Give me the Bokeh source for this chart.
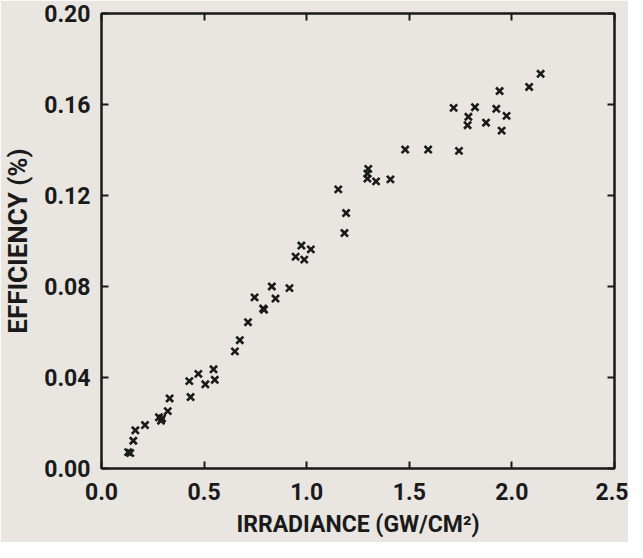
from bokeh.plotting import figure
from bokeh.models import FixedTicker, Range1d, LinearAxis, CustomLabelingPolicy
from bokeh.embed import file_html
from bokeh.resources import INLINE

irradiance = [0.13, 0.14, 0.155, 0.165, 0.212, 0.28, 0.29, 0.295, 0.323, 0.332,
              0.428, 0.434, 0.472, 0.506, 0.546, 0.552, 0.65, 0.674, 0.714, 0.746,
              0.788, 0.792, 0.83, 0.848, 0.916, 0.946, 0.974, 0.988, 1.02, 1.154,
              1.192, 1.184, 1.30, 1.296, 1.296, 1.338, 1.408, 1.48, 1.592, 1.742,
              1.716, 1.788, 1.784, 1.82, 1.874, 1.924, 1.94, 1.974, 1.95, 2.084, 2.14]
efficiency = [0.0072, 0.0068, 0.0122, 0.0168, 0.0191, 0.0225, 0.021, 0.022, 0.0252, 0.0308,
              0.0384, 0.0314, 0.0416, 0.037, 0.0436, 0.039, 0.0515, 0.0564, 0.0643, 0.0752,
              0.0703, 0.0698, 0.080, 0.0747, 0.0793, 0.0931, 0.098, 0.0918, 0.0963, 0.1227,
              0.1123, 0.1035, 0.1317, 0.1296, 0.1274, 0.1262, 0.1271, 0.1402, 0.1402, 0.1396,
              0.1585, 0.1546, 0.1509, 0.1588, 0.152, 0.1581, 0.1659, 0.155, 0.1485, 0.1677, 0.1735]

x_ticks = [0.0, 0.5, 1.0, 1.5, 2.0, 2.5]
x_tick_labels = ["0.0", "0.5", "1.0", "1.5", "2.0", "2.5"]
y_ticks = [0.00, 0.04, 0.08, 0.12, 0.16, 0.20]
y_tick_labels = ["0.00", "0.04", "0.08", "0.12", "0.16", "0.20"]

BG = "#e9e5e0"
FONT = "Roboto"
INK = "#1a1a1a"

p = figure(frame_width=513, frame_height=455,
           x_range=Range1d(x_ticks[0], x_ticks[-1]), y_range=Range1d(y_ticks[0], y_ticks[-1]),
           output_backend="svg", toolbar_location=None,
           background_fill_color=BG, border_fill_color=BG,
           min_border_left=98, min_border_top=13, min_border_right=14, min_border_bottom=74)
p.grid.visible = False
p.outline_line_color = INK
p.outline_line_width = 2

p.scatter(irradiance, efficiency, marker="x", size=10, line_width=2.6, line_color=INK)

def style(ax, label_size="23px"):
    ax.axis_line_color = INK
    ax.axis_line_width = 2
    ax.major_tick_in = 7
    ax.major_tick_out = 0
    ax.major_tick_line_width = 2
    ax.major_tick_line_color = INK
    ax.minor_tick_line_color = None
    ax.major_label_text_font = FONT
    ax.major_label_text_font_style = "bold"
    ax.major_label_text_font_size = "23px"
    ax.major_label_text_color = INK
    ax.axis_label_text_font = FONT
    ax.axis_label_text_font_style = "bold"
    ax.axis_label_text_font_size = label_size
    ax.axis_label_text_color = INK

xa = p.xaxis[0]
xa.ticker = FixedTicker(ticks=x_ticks)
xa.major_label_overrides = dict(zip(x_ticks, x_tick_labels))
xa.axis_label = "IRRADIANCE (GW/CM²)"
style(xa, "23px")
xa.major_label_standoff = 14
xa.axis_label_standoff = 8

ya = p.yaxis[0]
ya.ticker = FixedTicker(ticks=y_ticks)
ya.major_label_overrides = dict(zip(y_ticks, y_tick_labels))
ya.axis_label = "EFFICIENCY (%)"
style(ya, "26px")
ya.major_label_standoff = 11
ya.axis_label_standoff = 8

# tick-only axes on the top and right edges (no labels)
no_labels = CustomLabelingPolicy(code="return [];")
for side, ticks in (("above", x_ticks), ("right", y_ticks)):
    ax = LinearAxis(ticker=FixedTicker(ticks=ticks))
    style(ax)
    ax.major_label_policy = no_labels
    ax.major_label_text_font_size = "1px"
    ax.major_label_standoff = 0
    p.add_layout(ax, side)

open("out.html", "w").write(file_html(p, INLINE))
